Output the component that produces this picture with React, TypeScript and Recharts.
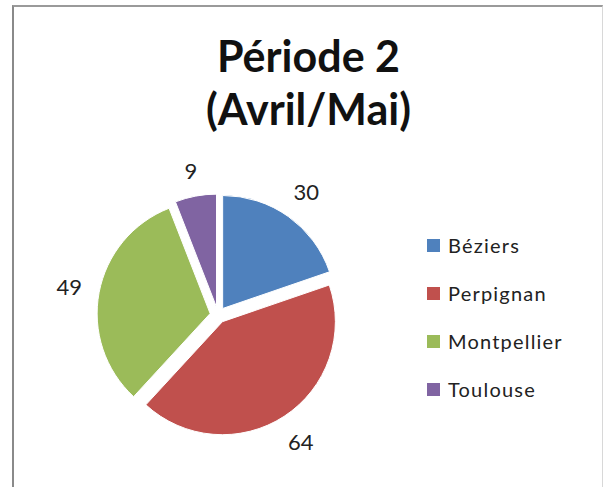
import React from "react";
import { PieChart, Pie, Cell, Legend, Sector } from "recharts";

// Période 2 (Avril/Mai)
const cities = ["Béziers", "Perpignan", "Montpellier", "Toulouse"];
const counts = [30, 64, 49, 9];
const colors = ["#4F81BD", "#C0504D", "#9BBB59", "#8064A2"];

const data = cities.map((name, i) => ({ name, value: counts[i] }));

const RAD = Math.PI / 180;
const FONT = "Lato, 'Open Sans', sans-serif";

// each slice pushed outward along its mid angle
const ExplodedSlice = (props: any) => {
  const { cx, cy, midAngle, innerRadius, outerRadius, startAngle, endAngle, fill } = props;
  const off = 8;
  const dx = off * Math.cos(-midAngle * RAD);
  const dy = off * Math.sin(-midAngle * RAD);
  return (
    <Sector
      cx={cx + dx}
      cy={cy + dy}
      innerRadius={innerRadius}
      outerRadius={outerRadius}
      startAngle={startAngle}
      endAngle={endAngle}
      fill={fill}
      stroke="#fff"
      strokeWidth={1}
    />
  );
};

// value label just outside the slice, pushed out by half its box
const renderLabel = (props: any) => {
  const { cx, cy, midAngle, value } = props;
  const fs = 22;
  const ux = Math.cos(-midAngle * RAD);
  const uy = Math.sin(-midAngle * RAD);
  const w = String(value).length * fs * 0.55;
  const h = fs * 0.75;
  const r = 138 + Math.abs(ux) * w / 2 + Math.abs(uy) * h / 2;
  return (
    <text
      x={cx + r * ux}
      y={cy + r * uy}
      textAnchor="middle"
      dominantBaseline="central"
      fill="#222"
      fontSize={fs}
      fontFamily={FONT}
    >
      {value}
    </text>
  );
};

const LegendBox = () => (
  <div style={{ fontFamily: FONT, fontSize: 20, color: "#222" }}>
    {cities.map((c, i) => (
      <div key={c} style={{ display: "flex", alignItems: "center", height: 48 }}>
        <span style={{ width: 13, height: 13, background: colors[i], marginRight: 8, display: "inline-block" }} />
        <span style={{ letterSpacing: 1.2 }}>{c}</span>
      </div>
    ))}
  </div>
);

export default function App() {
  return (
    <div style={{ position: "absolute", left: 0, top: 0, width: 603, height: 487, background: "#fff" }}>
      <div
        style={{
          position: "absolute",
          left: 12,
          top: 5,
          width: 588,
          height: 500,
          borderLeft: "2px solid #8a8a8a",
          borderTop: "2px solid #9a9a9a",
          borderRight: "1px solid #d8d8d8",
        }}
      />
      <div
        style={{
          position: "absolute",
          left: 0,
          top: 29,
          width: 617,
          textAlign: "center",
          fontFamily: FONT,
          fontWeight: 700,
          fontSize: 43,
          lineHeight: "53px",
          color: "#111",
        }}
      >
        Période 2
        <br />
        (Avril/Mai)
      </div>
      <PieChart width={603} height={487} style={{ position: "absolute", left: 0, top: 0 }}>
        <Pie
          data={data}
          dataKey="value"
          nameKey="name"
          cx={213}
          cy={310}
          outerRadius={113}
          startAngle={90}
          endAngle={-270}
          shape={ExplodedSlice}
          activeShape={ExplodedSlice}
          label={renderLabel}
          labelLine={false}
          isAnimationActive={false}
        >
          {data.map((d, i) => (
            <Cell key={d.name} fill={colors[i]} />
          ))}
        </Pie>
        <Legend
          layout="vertical"
          align="right"
          verticalAlign="top"
          content={<LegendBox />}
          wrapperStyle={{ left: 427, top: 221, width: 172 }}
        />
      </PieChart>
    </div>
  );
}
